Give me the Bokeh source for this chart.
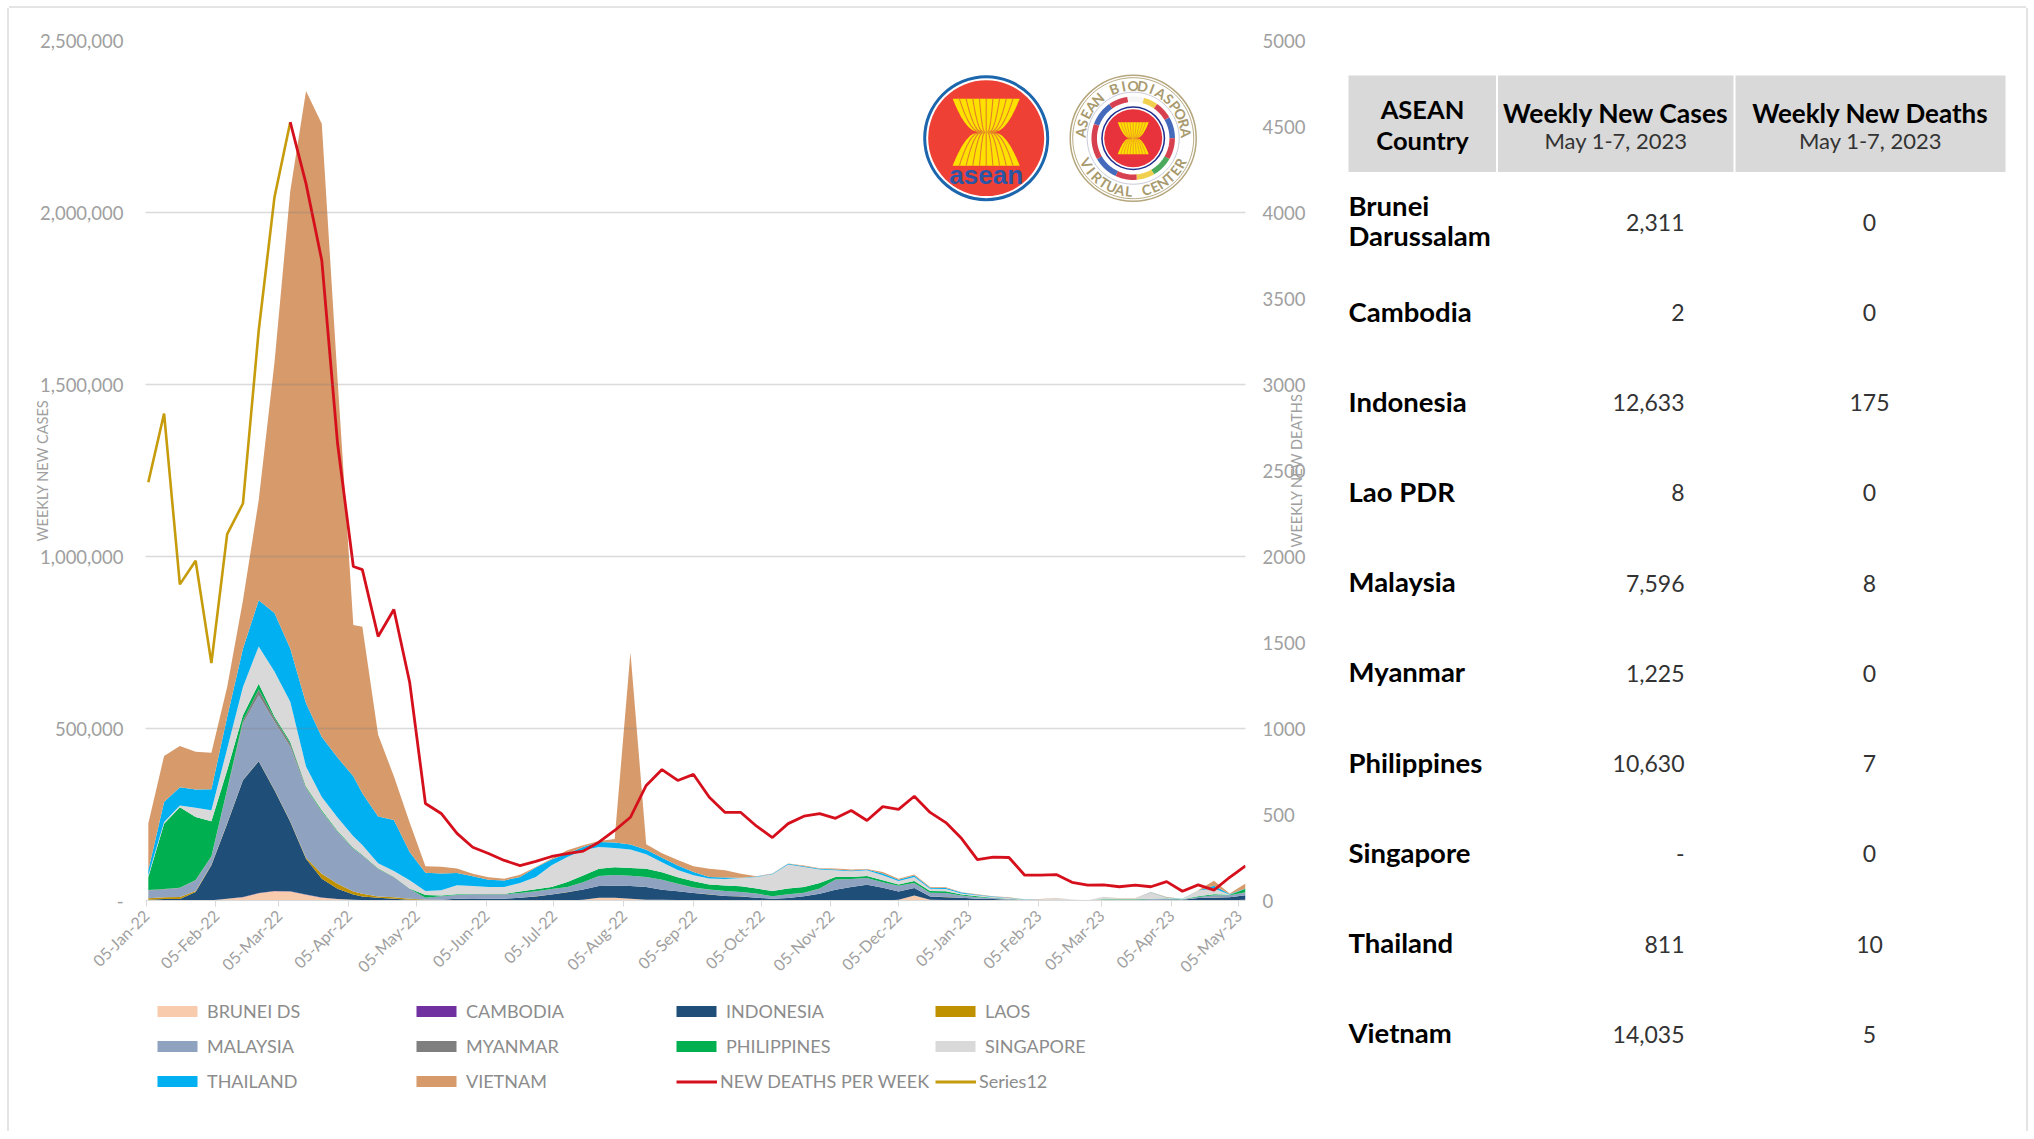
import math
import numpy as np
import pandas as pd
from bokeh.embed import file_html
from bokeh.models import (ColumnDataSource, DatetimeTickFormatter, FixedTicker, Legend, LegendItem,
                          LinearAxis, NumeralTickFormatter, Range1d)
from bokeh.plotting import figure
from bokeh.resources import INLINE
from bokeh.core.properties import value

# ---------- chart data (cases in thousands per reporting week) ----------
first_date = "2022-01-05"
day_offsets = list(range(1, 93, 7)) + list(range(96, 489, 7))
tick_dates = ["2022-01-05", "2022-02-05", "2022-03-05", "2022-04-05", "2022-05-05", "2022-06-05",
              "2022-07-05", "2022-08-05", "2022-09-05", "2022-10-05", "2022-11-05", "2022-12-05",
              "2023-01-05", "2023-02-05", "2023-03-05", "2023-04-05", "2023-05-05"]

brunei = [0.2,0.2,0.2,0.2,0.2,4.8,9.7,21,27,26,17,8,4,2,1,0.6,0.4,0.3,
          0.2,0.2,0.2,0.2,0.2,0.2,0.2,0.2,0.2,0.2,1.9,7.8,7.8,4.8,1.9,
          1.9,1,0.5,0.3,0.3,0.2,0.2,0.3,0.5,0.4,0.3,0.3,0.2,0.2,0.2,1.9,14.5,1.9,1,0.3,0.2,0.2,0.2,
          0.1,0.1,0.1,0.1,0.1,0.1,0.1,0.1,0.1,0.1,0.1,0.5,0.5,0.5,2.311]
cambodia = [0.1,0.1,0.2,0.3,0.4,0.5,0.6,0.7,0.8,0.7,0.6,0.5,0.4,0.3,0.2,0.2,0.1,0.1,
            0.1,0.1,0.1,0.1,0.1,0.1,0.1,0.1,0.1,0.1,0.1,0.1,0.1,0.1,0.1,
            0.1,0.1,0.1,0.1,0.1,0.1,0.1,0.1,0.1,0.1,0.1,0.1,0.1,0.1,0.1,0.1,0.1,0.1,0.1,0.1,0.1,0.1,0.1,
            0.05,0.05,0.05,0.05,0.05,0.05,0.05,0.05,0.05,0.05,0.05,0.05,0.05,0.05,0.002]
indonesia = [2,4,4,24,102,218,339,383,293,202,104,55,30,15.5,10.7,7,4.5,1.6,
             1.9,1.9,4.8,3.9,4.8,4.8,7.8,11.6,17.4,24,30,34,35,37,37,
             29,26,21,17.4,12.6,11.6,7.8,4.8,6.8,11.6,19.4,31,39,45.5,37,24,22,9.7,8.7,7.8,4.8,3.9,1.9,
             1,1,1,0.7,0.2,1,1,1,1.9,2.9,1.9,6.8,7.8,8.7,12.633]
laos = [3.9,4.8,5.8,2.9,1,1,1,1,1,1.9,2.9,14.5,14.5,8.7,7.8,3.9,4.8,2.9,
        0.8,0.3,0.1,0.1,0.1,0.1,0.1,0.1,0.1,0.1,0.1,0.1,0.1,0.1,0.1,
        0.1,0.1,0.1,0.1,0.1,0.1,0.1,0.1,0.1,0.1,0.1,0.1,0.1,0.1,0.1,0.1,0.1,0.1,0.1,0.1,0.1,0.1,0.1,
        0.1,0.1,0.1,0.1,0.1,0.1,0.1,0.1,0.1,0.1,0.1,0.1,0.1,0.1,0.008]
malaysia = [23,23,26,31,23,96,164,191,198,216,201,179,150,124,111,80,58,29,
            4.9,9.7,10.7,13.6,12.6,12.6,13.6,14.5,15.5,14.5,21,29,31,30,29,
            29,21,15.5,13.6,14.5,12.6,11.6,6.8,10.7,9.7,14.5,29,23,19.4,15.5,16.5,13.6,10.7,11.6,5.8,3.9,2.9,1.9,
            0.5,0.5,0.5,0.3,0.1,0.5,0.5,0.5,1.9,1,1,2.9,6.8,5.8,7.596]
myanmar = [1,1,1,1,2,3,8,16.5,10,10,3,2,1.5,1,1,0.8,0.6,0.4,
           0.3,0.3,0.3,0.3,0.3,0.3,0.3,0.3,0.3,0.3,0.3,0.3,0.3,0.3,0.3,
           0.3,0.3,0.3,0.3,0.3,0.3,0.3,0.3,0.3,0.3,0.3,0.3,0.3,0.3,0.3,0.3,0.3,0.3,0.3,0.3,0.1,0.1,0.1,
           0.1,0.1,0.1,0.1,0.1,0.1,0.1,0.1,0.1,0.1,0.1,0.1,0.1,0.1,1.225]
philippines = [38,190,234,183,102,55,16.5,17,5,5,3,3,2,1.5,1,1,1,0.5,
               7.8,1.9,1.9,1,1,1,3.9,5.8,5.8,14.5,19.4,21,22,22,24,
               22,19.4,18.4,14.5,15.5,16.5,14.5,15.5,16.5,17.4,16.5,7.8,5.8,5.8,5.8,3.9,5.8,4.8,4.8,2.9,2.9,1,1,
               0.5,0.5,0.5,0.3,0.1,1.5,1.5,1.5,1,1.9,0.5,1.9,2.9,1.5,10.63]
singapore = [5,5,5,27,32,63,82,108.5,131,116,58,39,39,34,29,14.5,16.5,24,
             11.6,15.5,26,23,20,20,25,36,63,73,73,63,56,54,41.7,
             29,21,17.4,17.4,19.4,24,34,48.5,70,58,39,19.4,16.5,16.5,14.5,9.7,11.6,6.8,6.8,2.9,2.9,1.9,1.9,
             0.5,1.5,4.4,1,0.1,7.5,2.5,2.5,18.4,1.9,0.5,16.5,16.5,0.5,0]
thailand = [14.5,58,53,53,61,92,111,134,170,155,184,174,174,174,150,136,148,82,
            53,48.5,36,28,21,19.4,17.4,27,16.5,9.7,9.7,14.5,16.5,14.5,13.6,
            12.6,12.6,9.7,4.8,3.9,1,1,1,1.9,1.9,1.9,1.9,1.9,1.9,4.8,3.9,4.8,2.9,2.9,2.9,1.9,1.5,1,
            0.5,0.1,0.1,0.1,0.1,0.1,0.1,0.1,0.4,1,0.5,0.5,7.8,1.9,0.811]
vietnam = [136,134,120,110,106,87,140,291,728,1329,1780,1783,1100,440,484,238,127,86,
           19,19.4,12.6,7.8,7.8,4.8,6.8,2,2.9,9.7,4.8,2.9,9.7,559,15.5,
           13.6,16.5,16.5,24,21,11.6,1,1,1,1.9,1.9,2.9,2.9,1.9,4.8,2.9,2.9,1.9,1.9,1,1,0.5,1,
           0.1,0.1,0.3,0.1,0.1,0.3,0.3,0.3,0.4,1,0.5,0.5,14.5,1,14.035]

series12 = [2432,2831,1838,1975,1380,2130,2308,3314,4089,4525]
new_deaths = [4525,4168,3721,2657,1942,1924,1535,1692,1269,564,506,390,310,273,233,203,227,256,273,287,
              339,407,484,669,761,698,733,600,512,512,432,366,447,490,505,478,523,465,546,530,606,
              512,453,360,238,252,250,147,147,151,106,89,91,80,89,80,110,54,91,60,135,201]

case_ticks = [0, 500000, 1000000, 1500000, 2000000, 2500000]
death_ticks = [0, 500, 1000, 1500, 2000, 2500, 3000, 3500, 4000, 4500, 5000]

stack_names = ["BRUNEI DS", "CAMBODIA", "INDONESIA", "LAOS", "MALAYSIA", "MYANMAR",
               "PHILIPPINES", "SINGAPORE", "THAILAND", "VIETNAM"]
stack_values = [brunei, cambodia, indonesia, laos, malaysia, myanmar, philippines, singapore, thailand, vietnam]
stack_colors = ["#f8cbad", "#7030a0", "#1f4e79", "#bf9000", "#8fa2bf", "#7f7f7f",
                "#00b050", "#d9d9d9", "#00b0f0", "#d69a6b"]
DEATH_COLOR = "#d5101c"
SERIES12_COLOR = "#c69c0c"

# ---------- table data ----------
table_countries = ["Brunei\nDarussalam", "Cambodia", "Indonesia", "Lao PDR", "Malaysia", "Myanmar",
                   "Philippines", "Singapore", "Thailand", "Vietnam"]
table_cases = ["2,311", "2", "12,633", "8", "7,596", "1,225", "10,630", "-", "811", "14,035"]
table_deaths = ["0", "0", "175", "0", "8", "0", "7", "0", "10", "5"]

FONT = "Lato"
GREY = "#a0a0a0"
TICK_GREY = "#d9d9d9"
FRAME = "#e4e4e4"

# ---------- chart ----------
dates = pd.to_datetime(first_date) + pd.to_timedelta(day_offsets, unit="D")
data = {"date": dates}
for name, vals in zip(stack_names, stack_values):
    data[name] = [v * 1000 for v in vals]
source = ColumnDataSource(data)

p = figure(width=1321, height=1123, output_backend="svg", toolbar_location=None,
           x_axis_type="datetime", min_border_left=136, min_border_right=85,
           min_border_top=32, min_border_bottom=231,
           x_range=Range1d(pd.Timestamp("2022-01-04 18:00"), pd.Timestamp("2023-05-08")),
           y_range=Range1d(0, 2500000),
           styles={"position": "absolute", "left": "9px", "top": "8px",
                   "box-shadow": f"-2px 0 0 {FRAME}, 0 -2px 0 {FRAME}"})
p.outline_line_color = None
p.xgrid.visible = False
p.ygrid.ticker = FixedTicker(ticks=case_ticks)
p.ygrid.grid_line_color = "#7f7f7f"
p.ygrid.grid_line_alpha = 0.28
p.ygrid.grid_line_width = 1.6
p.ygrid.level = "annotation"

p.varea_stack(stack_names, x="date", color=stack_colors, source=source)

p.extra_y_ranges["deaths"] = Range1d(0, 5000)
p.line(dates[:len(series12)], series12, y_range_name="deaths", line_color=SERIES12_COLOR, line_width=2.6)
p.line(dates[len(series12) - 1:], new_deaths, y_range_name="deaths", line_color=DEATH_COLOR, line_width=2.8)

# axes
xa = p.xaxis[0]
xa.ticker = FixedTicker(ticks=[pd.Timestamp(d).value / 1e6 for d in tick_dates])
xa.formatter = DatetimeTickFormatter(days="%d-%b-%y", months="%d-%b-%y", years="%d-%b-%y",
                                     hours="%d-%b-%y", minutes="%d-%b-%y", seconds="%d-%b-%y",
                                     milliseconds="%d-%b-%y")
xa.major_label_orientation = math.pi / 4
xa.major_label_text_font = FONT
xa.major_label_text_font_size = "16px"
xa.major_label_text_color = GREY
xa.major_label_standoff = 6
xa.axis_line_color = TICK_GREY
xa.major_tick_line_color = TICK_GREY
xa.major_tick_out = 6
xa.major_tick_in = 0
xa.minor_tick_line_color = None

ya = p.yaxis[0]
ya.ticker = FixedTicker(ticks=case_ticks)
ya.formatter = NumeralTickFormatter(format="0,0")
ya.major_label_overrides = {0: "-"}
ya.axis_line_color = None
ya.major_tick_line_color = None
ya.minor_tick_line_color = None
ya.major_label_text_font = FONT
ya.major_label_text_font_size = "18.5px"
ya.major_label_text_color = GREY
ya.major_label_standoff = 16
ya.axis_label = "WEEKLY NEW CASES"
ya.axis_label_text_font = FONT
ya.axis_label_text_font_size = "14.5px"
ya.axis_label_text_font_style = "normal"
ya.axis_label_text_color = GREY
ya.axis_label_standoff = -14

ra = LinearAxis(y_range_name="deaths", ticker=FixedTicker(ticks=death_ticks))
ra.axis_line_color = None
ra.major_tick_line_color = None
ra.minor_tick_line_color = None
ra.major_label_text_font = FONT
ra.major_label_text_font_size = "18.5px"
ra.major_label_text_color = GREY
ra.major_label_standoff = 11
p.add_layout(ra, "right")

# ---------- legend, in its own strip under the chart ----------
lf = figure(width=1100, height=110, output_backend="svg", toolbar_location=None, min_border=0,
            x_range=Range1d(0, 1), y_range=Range1d(0, 1),
            styles={"position": "absolute", "left": "145px", "top": "995px"})
lf.axis.visible = False
lf.grid.visible = False
lf.outline_line_color = None
key_areas = {n: lf.varea(x=[0, 1], y1=[-3, -3], y2=[-2, -2], fill_color=c)
             for n, c in zip(stack_names, stack_colors)}
key_deaths = lf.line([0, 1], [-2, -2], line_color=DEATH_COLOR, line_width=3)
key_series12 = lf.line([0, 1], [-2, -2], line_color=SERIES12_COLOR, line_width=3)


def add_legend(entries, x, y, standoff, glyph_w, glyph_h):
    lg = Legend(items=[LegendItem(label=n, renderers=[r]) for n, r in entries], location=(x, y),
                orientation="vertical", padding=0, margin=0, spacing=13, border_line_color=None,
                background_fill_alpha=0, glyph_width=glyph_w, glyph_height=glyph_h, label_height=22,
                label_standoff=standoff, label_text_font=FONT, label_text_font_size="18px",
                label_text_color="#8c8c8c")
    lf.add_layout(lg, "center")


def area_items(names):
    return [(n, key_areas[n]) for n in names]


add_legend(area_items(["BRUNEI DS", "MALAYSIA", "THAILAND"]), 7, 13, 5, 50, 14)
add_legend(area_items(["CAMBODIA", "MYANMAR", "VIETNAM"]), 266, 13, 5, 50, 14)
add_legend(area_items(["INDONESIA", "PHILIPPINES"]), 526, 48, 5, 50, 14)
add_legend([("NEW DEATHS PER WEEK", key_deaths)], 531, 13, 3, 41, 11)
add_legend(area_items(["LAOS", "SINGAPORE"]), 785, 48, 5, 50, 14)
add_legend([("Series12", key_series12)], 790, 13, 3, 41, 11)

# ---------- logos, drawn in a pixel-like coordinate space over the frame ----------
p.extra_x_ranges["px_x"] = Range1d(145, 1245)
p.extra_y_ranges["px_y"] = Range1d(900, 40)
PX = dict(x_range_name="px_x", y_range_name="px_y")


def sheaf(cx, cy, half_w, half_h, gap_color, gap_width):
    t_ = np.linspace(-1, 1, 41)
    waist = 0.22
    h = half_w * (waist + (1 - waist) * np.abs(t_) ** 0.5)
    ys = cy + t_ * half_h
    p.patch(list(cx - h) + list(cx + h)[::-1], list(ys) + list(ys)[::-1], fill_color="#ffe100", line_color=None, **PX)
    for j in range(-4, 5):
        f = j / 5
        p.line(cx + f * h, ys, line_color=gap_color, line_width=gap_width, **PX)


def ring(cx, cy, r, color, width):
    th = np.linspace(0, 2 * np.pi, 181)
    p.line(cx + r * np.cos(th), cy + r * np.sin(th), line_color=color, line_width=width, **PX)


cx1, cy1 = 985.7, 137.7
p.circle([cx1], [cy1], radius=63, fill_color="#1b66ac", line_color=None, **PX)
p.circle([cx1], [cy1], radius=60, fill_color="white", line_color=None, **PX)
p.circle([cx1], [cy1], radius=58, fill_color="#ee4035", line_color=None, **PX)
sheaf(cx1, cy1 - 6, 33.5, 33.5, "#e2802a", 1.1)
p.text([cx1], [cy1 + 36.5], text=["asean"], text_font=value("Liberation Sans"), text_font_style="bold",
       text_font_size="26px", text_color="#2b55a5", text_align="center", text_baseline="middle", **PX)

cx2, cy2 = 1132.7, 137.7
GOLD_RING = "#b5a67c"
p.circle([cx2], [cy2], radius=63, fill_color="white", line_color=GOLD_RING, line_width=1.5, **PX)
ring(cx2, cy2, 60.5, GOLD_RING, 1)
wreath = [(200, 235, "#2450b0"), (235, 262, "#d02030"), (262, 285, "#f5f5f5"), (285, 305, "#f0c830"),
          (305, 330, "#d02030"), (330, 360, "#2450b0"), (0, 30, "#d02030"), (30, 60, "#2a9a40"),
          (60, 85, "#f0c830"), (85, 115, "#d02030"), (115, 150, "#2450b0"), (150, 200, "#d02030")]
for a0, a1, col in wreath:
    th = np.radians(np.linspace(a0, a1, 12))
    p.line(cx2 + 39 * np.cos(th), cy2 + 39 * np.sin(th), line_color=col, line_width=5.5, line_alpha=0.85, **PX)
ring(cx2, cy2, 46, "#c8c8d8", 1)
p.circle([cx2], [cy2], radius=32, fill_color="#1f2f8f", line_color=None, **PX)
p.circle([cx2], [cy2], radius=30.5, fill_color="white", line_color=None, **PX)
p.circle([cx2], [cy2], radius=29, fill_color="#e8323c", line_color=None, **PX)
sheaf(cx2, cy2, 15.5, 16, "#e2802a", 0.7)

top_arc = "ASEAN BIODIASPORA"
bottom_arc = "VIRTUAL CENTER"
R = 53
for i, ch in enumerate(top_arc):
    a = math.radians(-84 + 168 * i / (len(top_arc) - 1))
    p.text([cx2 + R * math.sin(a)], [cy2 - R * math.cos(a)], text=[ch], angle=-a, text_font=value(FONT),
           text_font_style="bold", text_font_size="14px", text_color="#a89a6e", text_align="center",
           text_baseline="middle", **PX)
for i, ch in enumerate(bottom_arc):
    a = math.radians(-62 + 124 * i / (len(bottom_arc) - 1))
    p.text([cx2 + R * math.sin(a)], [cy2 + R * math.cos(a)], text=[ch], angle=a, text_font=value(FONT),
           text_font_style="bold", text_font_size="14px", text_color="#a89a6e", text_align="center",
           text_baseline="middle", **PX)

# ---------- table (transparent, also carries the right axis title) ----------
t = figure(width=746, height=1123, output_backend="svg", toolbar_location=None,
           x_range=Range1d(1280, 2026), y_range=Range1d(1131, 8), min_border=0,
           background_fill_color=None, border_fill_color=None,
           styles={"position": "absolute", "left": "1280px", "top": "8px",
                   "box-shadow": f"2px 0 0 {FRAME}, 0 -2px 0 {FRAME}"})
t.axis.visible = False
t.grid.visible = False
t.outline_line_color = None

t.text([1296], [470], text=["WEEKLY NEW DEATHS"], angle=math.pi / 2, text_font=value(FONT),
       text_font_size="14.5px", text_color=GREY, text_align="center", text_baseline="middle")

t.quad(left=[1348, 1497.5, 1735], right=[1495.5, 1733, 2005], top=[75, 75, 75], bottom=[171.5, 171.5, 171.5],
       fill_color="#d9d9d9", line_color=None)


def tx(x, y, s, size, bold=False, align="left", color="#000000"):
    t.text([x], [y], text=[s], text_font=value(FONT), text_font_style="bold" if bold else "normal",
           text_font_size=size, text_color=color, text_align=align, text_baseline="middle", text_line_height=0.9)


tx(1422, 108.5, "ASEAN", "25.5px", True, "center")
tx(1422, 139.5, "Country", "25.5px", True, "center")
tx(1615.5, 112, "Weekly New Cases", "26.5px", True, "center")
tx(1615.5, 140, "May 1-7, 2023", "22px", False, "center", "#333333")
tx(1870, 112, "Weekly New Deaths", "26px", True, "center")
tx(1870, 140, "May 1-7, 2023", "22px", False, "center", "#333333")

for i, (c, nc, nd) in enumerate(zip(table_countries, table_cases, table_deaths)):
    yc = 221.8 + 90.22 * i
    tx(1348, yc - 1.5, c, "27.5px", True)
    tx(1684, yc, nc, "23px", False, "right", "#333333")
    tx(1869, yc, nd, "23px", False, "center", "#333333")

open("out.html", "w").write(file_html([p, lf, t], INLINE))
